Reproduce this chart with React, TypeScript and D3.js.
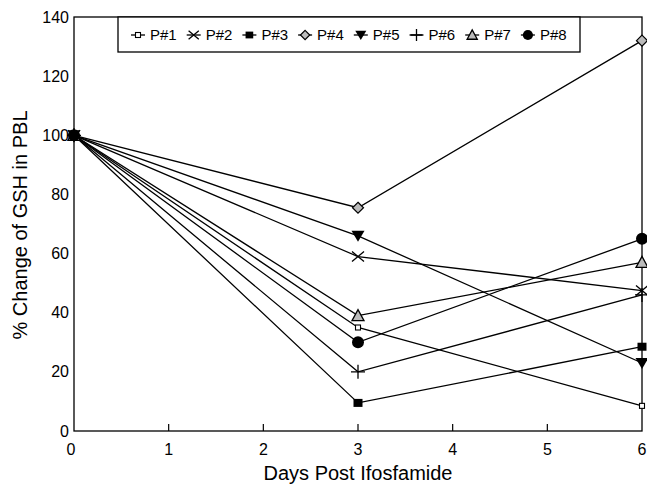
import React from "react";
import * as d3 from "d3";

const days = [0, 3, 6];
const xTicks = [0, 1, 2, 3, 4, 5, 6];
const yTicks = [0, 20, 40, 60, 80, 100, 120, 140];

const p1 = [100, 35, 8.5];
const p2 = [100, 59, 47.5];
const p3 = [100, 9.5, 28.5];
const p4 = [100, 75.5, 132];
const p5 = [100, 66, 23];
const p6 = [100, 20, 46];
const p7 = [100, 39, 57];
const p8 = [100, 30, 65];

const seriesNames = ["P#1", "P#2", "P#3", "P#4", "P#5", "P#6", "P#7", "P#8"];
const seriesValues = [p1, p2, p3, p4, p5, p6, p7, p8];
const markerKinds = ["openSquare", "cross", "square", "diamond", "triDown", "plus", "triUp", "circle"];

const W = 647;
const H = 488;
const left = 74, right = 642, top = 17, bottom = 431;
const FONT = "'Liberation Sans', Arial, Helvetica, sans-serif";

function Marker({ kind, x, y, s = 1 }: { kind: string; x: number; y: number; s?: number }) {
  const sw = 1.3;
  switch (kind) {
    case "openSquare":
      return <rect x={x - 2.5} y={y - 2.5} width={5} height={5} fill="#fff" stroke="#000" strokeWidth={1.1} />;
    case "cross":
      return (
        <path
          d={`M${x - 6 * s},${y - 5 * s}L${x + 6 * s},${y + 5 * s}M${x - 6 * s},${y + 5 * s}L${x + 6 * s},${y - 5 * s}`}
          stroke="#000"
          strokeWidth={sw}
          fill="none"
        />
      );
    case "square":
      return <rect x={x - 4.5 * s} y={y - 4 * s} width={9 * s} height={8 * s} fill="#000" />;
    case "diamond":
      return (
        <path
          d={`M${x},${y - 5.5 * s}L${x + 5.5 * s},${y}L${x},${y + 5.5 * s}L${x - 5.5 * s},${y}Z`}
          fill="#bbb"
          stroke="#000"
          strokeWidth={1.2}
        />
      );
    case "triDown":
      return <path d={`M${x - 6.5 * s},${y - 5 * s}L${x + 6.5 * s},${y - 5 * s}L${x},${y + 6 * s}Z`} fill="#000" />;
    case "plus":
      return (
        <path
          d={`M${x - 7 * s},${y}L${x + 7 * s},${y}M${x},${y - 7 * s}L${x},${y + 7 * s}`}
          stroke="#000"
          strokeWidth={sw}
          fill="none"
        />
      );
    case "triUp":
      return (
        <path
          d={`M${x - 6 * s},${y + 5 * s}L${x + 6 * s},${y + 5 * s}L${x},${y - 6 * s}Z`}
          fill="#bbb"
          stroke="#000"
          strokeWidth={1.3}
        />
      );
    case "circle":
      return <circle cx={x} cy={y} r={6 * s} fill="#000" />;
    default:
      return null;
  }
}

export default function App() {
  const x = d3.scaleLinear().domain([0, 6]).range([left, right]);
  const y = d3.scaleLinear().domain([0, 140]).range([bottom, top]);

  const line = d3
    .line<number>()
    .x((_, i) => x(days[i]))
    .y((d) => y(d));

  return (
    <svg
      width={W}
      height={H}
      style={{ position: "absolute", left: 0, top: 0, background: "#fff" }}
      fontFamily={FONT}
    >
      <rect x={0} y={0} width={W} height={H} fill="#fff" />

      {/* frame */}
      <rect x={left} y={top} width={right - left} height={bottom - top} fill="none" stroke="#000" strokeWidth={1.3} />

      {/* x ticks (inward) */}
      {xTicks.slice(1, -1).map((t) => (
        <line key={t} x1={x(t)} x2={x(t)} y1={bottom} y2={bottom - 7} stroke="#000" strokeWidth={1.2} />
      ))}
      {xTicks.map((t) => (
        <text key={t} x={x(t) - (t === 0 ? 3 : 0)} y={bottom + 24} textAnchor="middle" fontSize={16}>
          {t}
        </text>
      ))}

      {/* y tick labels */}
      {yTicks.map((t) => (
        <text key={t} x={left - 5} y={y(t) + 5.5} textAnchor="end" fontSize={16}>
          {t}
        </text>
      ))}

      {/* axis titles */}
      <text x={358} y={480} textAnchor="middle" fontSize={20}>
        Days Post Ifosfamide
      </text>
      <text transform={`translate(27,${225}) rotate(-90)`} textAnchor="middle" fontSize={20}>
        % Change of GSH in PBL
      </text>

      {/* lines */}
      {seriesValues.map((vals, i) => (
        <path key={i} d={line(vals) || ""} fill="none" stroke="#000" strokeWidth={1.3} />
      ))}

      {/* markers */}
      {seriesValues.map((vals, i) =>
        vals.map((v, j) => <Marker key={`${i}-${j}`} kind={markerKinds[i]} x={x(days[j])} y={y(v)} />)
      )}

      {/* legend */}
      <rect x={118} y={top} width={462} height={35} fill="#fff" stroke="#000" strokeWidth={1.3} />
      {seriesNames.map((name, i) => {
        const cx = 138 + i * 55.7;
        const cy = 35;
        return (
          <g key={name}>
            <line x1={cx - 7} x2={cx + 7} y1={cy} y2={cy} stroke="#000" strokeWidth={1.3} />
            <Marker kind={markerKinds[i]} x={cx} y={cy} s={0.85} />
            <text x={cx + 12} y={cy + 5} fontSize={15}>
              {name}
            </text>
          </g>
        );
      })}
    </svg>
  );
}
